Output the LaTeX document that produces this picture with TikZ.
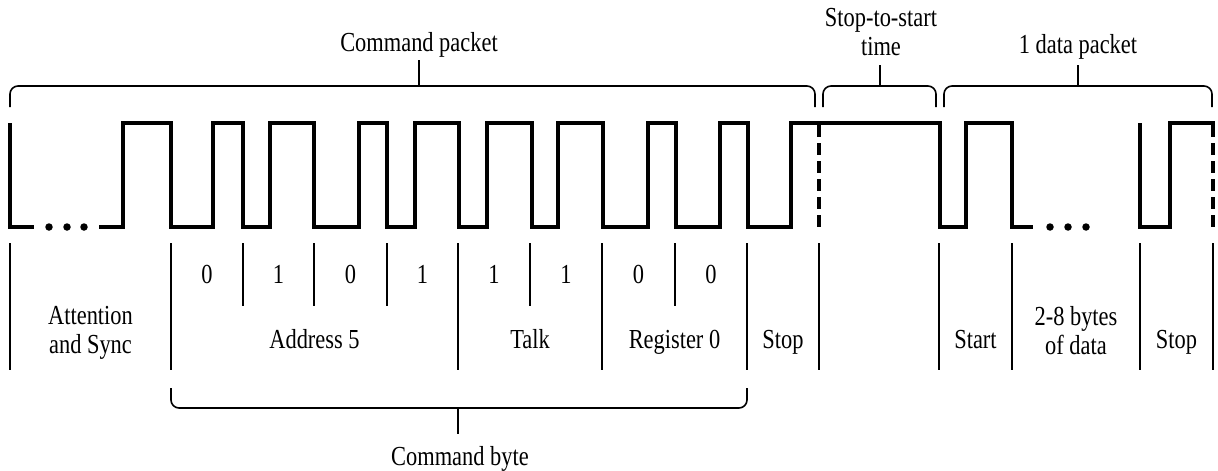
\documentclass[tikz,border=0pt]{standalone}
\usepackage{fontspec}
\setmainfont[FakeStretch=0.815]{Liberation Serif}
\begin{document}
\begin{tikzpicture}[x=1pt,y=-1pt,
  sig/.style={line width=3.6pt, line join=miter},
  sigdash/.style={line width=3.6pt, dash pattern=on 12pt off 6pt},
  divider/.style={line width=1.8pt},
  brk/.style={line width=1.6pt, rounded corners=8pt},
  tick/.style={line width=1.6pt},
  lbl/.style={font=\fontsize{27.5}{29}\selectfont, inner sep=0pt, anchor=base, align=center},
  sigdot/.style={circle, fill=black, inner sep=0pt, minimum size=7.5pt}]
\fill[white] (0,0) rectangle (1218,471);
\useasboundingbox (0,0) rectangle (1218,471);

% ---------- waveform ----------
\draw[sig] (10,123) -- (10,227) -- (34,227);
\node[sigdot] (d1) at (49,227) {};
\node[sigdot] (d2) at (67,227) {};
\node[sigdot] (d3) at (84,227) {};
\draw[sig] (99,227) -- (123,227) -- (123,123) -- (171,123) -- (171,227)
  -- (213,227) -- (213,123) -- (243,123) -- (243,227)
  -- (270,227) -- (270,123) -- (314,123) -- (314,227)
  -- (359,227) -- (359,123) -- (387,123) -- (387,227)
  -- (415,227) -- (415,123) -- (459,123) -- (459,227)
  -- (487,227) -- (487,123) -- (532,123) -- (532,227)
  -- (558,227) -- (558,123) -- (603,123) -- (603,227)
  -- (648,227) -- (648,123) -- (676,123) -- (676,227)
  -- (720,227) -- (720,123) -- (748,123) -- (748,227)
  -- (791,227) -- (791,123) -- (940,123) -- (940,227)
  -- (966,227) -- (966,123) -- (1012,123) -- (1012,227) -- (1033,227);
\node[sigdot] (d4) at (1050,227) {};
\node[sigdot] (d5) at (1068,227) {};
\node[sigdot] (d6) at (1086,227) {};
\draw[sig] (1140,123) -- (1140,227) -- (1170,227) -- (1170,123) -- (1215,123);
\draw[sigdash] (819,125) -- (819,227);
\draw[sigdash] (1213,125) -- (1213,227);

% ---------- top brackets ----------
\draw[brk] (10,107) -- (10,86) -- (815,86) -- (815,107);
\draw[brk] (823,107) -- (823,86) -- (936,86) -- (936,107);
\draw[brk] (944,107) -- (944,86) -- (1212,86) -- (1212,107);
\node[lbl] (cmdpkt) at (419,51) {Command packet};
\node[lbl] (sts) at (881,55) {Stop-to-start\\time};
\node[lbl] (datapkt) at (1078,53) {1 data packet};
\coordinate (t1) at (419,60);
\coordinate (t1b) at (419,86);
\coordinate (t2) at (880,65);
\coordinate (t2b) at (880,86);
\coordinate (t3) at (1078,65);
\coordinate (t3b) at (1078,86);
\draw[tick] (t1b) -- (t1);
\draw[tick] (t2b) -- (t2);
\draw[tick] (t3b) -- (t3);

% ---------- dividers ----------
\foreach \x in {10,171,458,602,747,819,939,1012,1140,1213}
  \draw[divider] (\x,243) -- (\x,370);
\foreach \x in {243,314,387,530,675}
  \draw[divider] (\x,243) -- (\x,306);

% ---------- bit labels ----------
\node[lbl] (b1) at (207,283) {0};
\node[lbl] (b2) at (278.5,283) {1};
\node[lbl] (b3) at (350.5,283) {0};
\node[lbl] (b4) at (422.5,283) {1};
\node[lbl] (b5) at (494,283) {1};
\node[lbl] (b6) at (566,283) {1};
\node[lbl] (b7) at (638.5,283) {0};
\node[lbl] (b8) at (711,283) {0};

% ---------- field labels ----------
\node[lbl] (att) at (90.5,353) {Attention\\and Sync};
\node[lbl] (addr) at (314.5,348) {Address 5};
\node[lbl] (talk) at (530,348) {Talk};
\node[lbl] (reg) at (674.5,348) {Register 0};
\node[lbl] (stop1) at (783,348) {Stop};
\node[lbl] (start) at (975.5,348) {Start};
\node[lbl] (bytes) at (1076,354) {2-8 bytes\\of data};
\node[lbl] (stop2) at (1176.5,348) {Stop};

% ---------- command byte bracket ----------
\draw[brk] (171,388) -- (171,408) -- (747,408) -- (747,388);
\coordinate (t4) at (458,408);
\coordinate (t4b) at (458,434);
\draw[tick] (t4) -- (t4b);
\node[lbl] (cmdbyte) at (460,465) {Command byte};
\end{tikzpicture}
\end{document}
